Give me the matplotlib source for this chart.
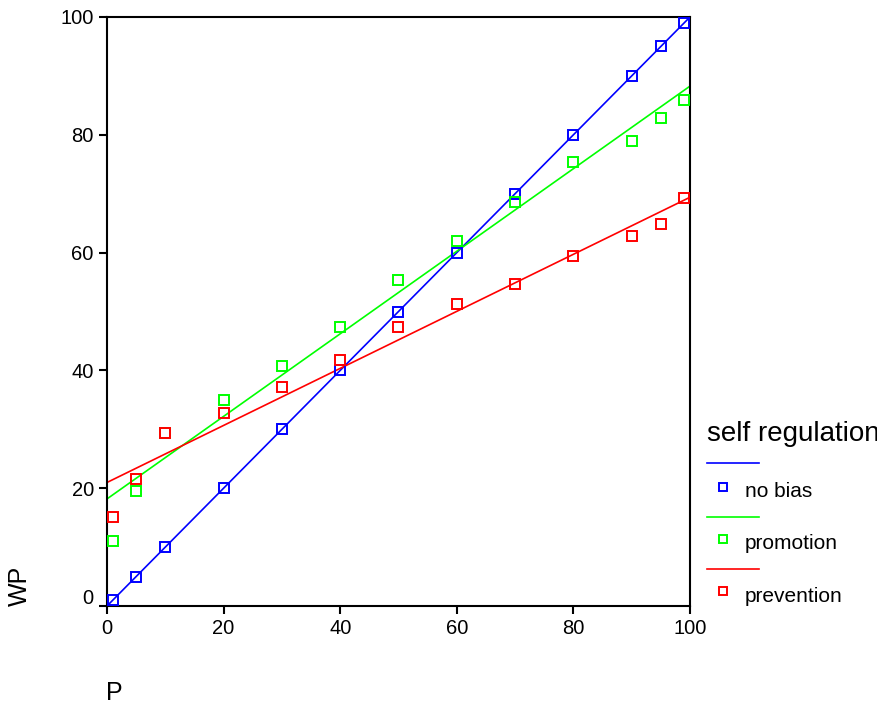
import matplotlib
matplotlib.use("Agg")
import matplotlib.pyplot as plt
import matplotlib.transforms as mtransforms
from matplotlib.lines import Line2D
import numpy as np

plt.rcParams["font.family"] = ["Liberation Sans", "DejaVu Sans"]

# P values shared by every group
p_vals = [1, 5, 10, 20, 30, 40, 50, 60, 70, 80, 90, 95, 99]

# WP per self regulation group
wp_no_bias = [1, 5, 10, 20, 30, 40, 50, 60, 70, 80, 90, 95, 99]
wp_promotion = [11.1, 19.5, 29.4, 35.0, 40.8, 47.3, 55.3, 61.9, 68.6, 75.3, 78.9, 82.9, 85.9]
wp_prevention = [15.1, 21.5, 29.4, 32.7, 37.1, 41.8, 47.4, 51.3, 54.7, 59.4, 62.9, 64.9, 69.2]

group_names = ["no bias", "promotion", "prevention"]
group_colors = ["#0000ff", "#00ff00", "#ff0000"]
ticks = [0, 20, 40, 60, 80, 100]

W, H = 878, 704
fig = plt.figure(figsize=(W / 100, H / 100), dpi=100)
ax = fig.add_axes([107 / W, 1 - 606 / H, (690 - 107) / W, (606 - 17) / H])

x_fit = np.array([0, 100])
for wp, col in zip([wp_no_bias, wp_promotion, wp_prevention], group_colors):
    # linear fit line across the full P range
    slope, icept = np.polyfit(p_vals, wp, 1)
    ax.plot(x_fit, slope * x_fit + icept, color=col, lw=1.2, zorder=2)
    ax.plot(p_vals, wp, ls="none", marker="s", ms=6.5, mfc="none",
            mec=col, mew=1.4, zorder=3, clip_on=False)

ax.set_xlim(0, 100)
ax.set_ylim(0, 100)
ax.set_xticks(ticks)
ax.set_yticks(ticks)
ax.tick_params(labelsize=14.5, length=6, width=1.5, direction="out",
               colors="black")
for sp in ax.spines.values():
    sp.set_linewidth(1.5)

# lift the bottom y tick label off the x axis
fig.canvas.draw()
ylabels = ax.get_yticklabels()
ylabels[0].set_transform(ylabels[0].get_transform() +
                         mtransforms.ScaledTranslation(0, 9 / 100, fig.dpi_scale_trans))

fig.text(20 / W, 1 - 586 / H, "WP", rotation=90, fontsize=18,
         ha="center", va="center")
fig.text(114 / W, 1 - 693 / H, "P", fontsize=18, ha="center", va="center")

# legend: line row, then marker + name row for each group
fig.text(707 / W, 1 - 441 / H, "self regulation", fontsize=20,
         ha="left", va="baseline")
line_rows = [463, 517, 569]
mark_rows = [487, 539, 591]
text_rows = [497, 549, 602]
for name, col, ly, my, ty in zip(group_names, group_colors, line_rows, mark_rows, text_rows):
    fig.add_artist(Line2D([707 / W, 759 / W], [1 - ly / H, 1 - ly / H],
                          color=col, lw=1.2, transform=fig.transFigure))
    fig.add_artist(Line2D([723 / W], [1 - my / H], ls="none", marker="s",
                          ms=6, mfc="none", mec=col, mew=1.4,
                          transform=fig.transFigure))
    fig.text(745 / W, 1 - ty / H, name, fontsize=15, ha="left", va="baseline")

fig.savefig("out.png", dpi=100)
